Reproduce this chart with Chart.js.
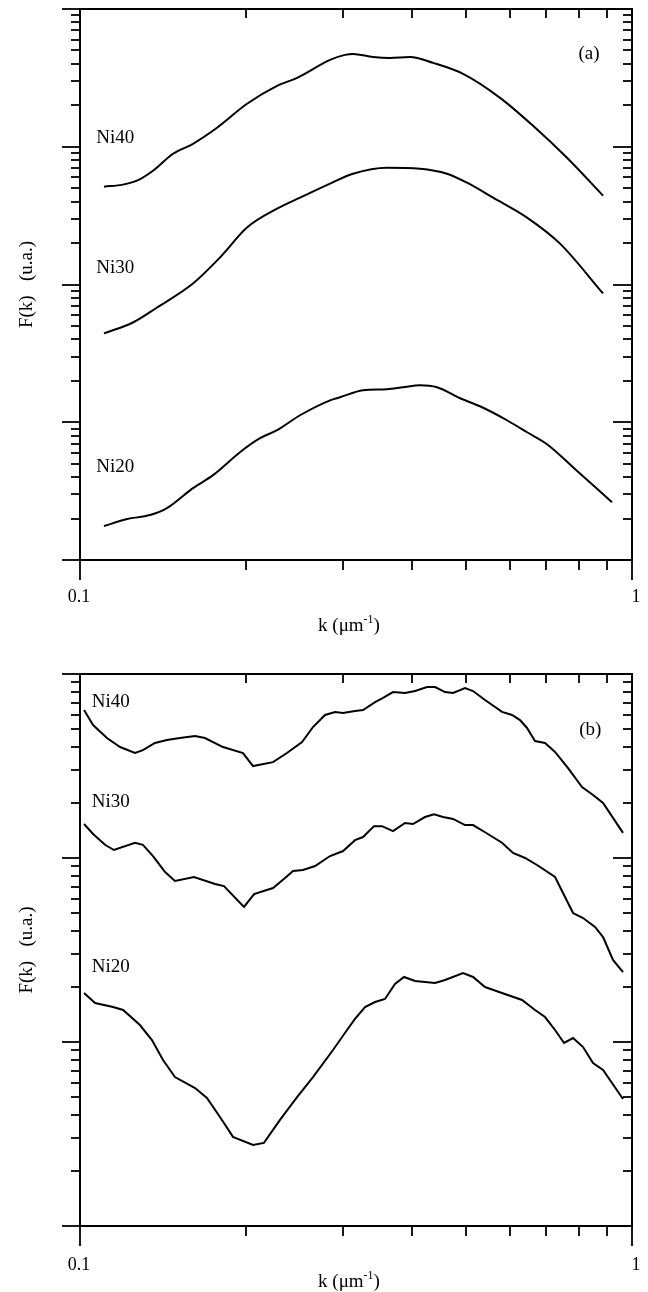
<!DOCTYPE html>
<html>
<head>
<meta charset="utf-8">
<script src="https://cdn.jsdelivr.net/npm/chart.js@4.4.1/dist/chart.umd.min.js"></script>
<style>
  html, body { margin: 0; padding: 0; background: #fff; }
  .panel { position: relative; width: 648px; height: 646px; }
</style>
</head>
<body>
<div class="panel"><canvas id="chartA"></canvas></div>
<div class="panel"><canvas id="chartB"></canvas></div>
<script>
// ---- panel (a): smooth curves ----
const kA40 = [0.1105, 0.1196, 0.1268, 0.1356, 0.1474, 0.1602, 0.1771, 0.2007, 0.2275, 0.2473, 0.2838,
              0.3020, 0.3123, 0.3395, 0.3644, 0.3962, 0.4361, 0.4943, 0.5768, 0.6618, 0.7625, 0.8863];
const fA40 = [513, 531, 567, 670, 889, 1051, 1374, 2051, 2767, 3162, 4270,
              4643, 4722, 4487, 4416, 4487, 4064, 3382, 2265, 1420, 832, 442];

const kA30 = [0.1105, 0.1247, 0.1379, 0.1602, 0.1793, 0.2007, 0.2275, 0.2504, 0.2838,
              0.3123, 0.3598, 0.4130, 0.4622, 0.5025, 0.5601, 0.6454, 0.7406, 0.8863];
const fA30 = [44.2, 53.0, 68.1, 101.6, 157, 259, 355, 427, 540,
              637, 704, 693, 637, 548, 427, 306, 198, 86.1];

const kA20 = [0.1105, 0.1217, 0.1339, 0.1437, 0.1602, 0.1742, 0.1949, 0.2119, 0.2275, 0.2504, 0.2838, 0.2958,
              0.3256, 0.3598, 0.3847, 0.4130, 0.4434, 0.4880, 0.5304, 0.5936, 0.6454, 0.7015, 0.7818, 0.9199];
const fA20 = [1.763, 1.982, 2.119, 2.381, 3.325, 4.130, 6.06, 7.66, 8.75, 11.24, 14.43, 15.18,
              17.06, 17.35, 17.93, 18.54, 17.93, 14.93, 13.06, 10.34, 8.46, 6.93, 4.72, 2.63];

// ---- panel (b): raw data, straight segments ----
const kB40 = [0.1017, 0.1056, 0.1119, 0.1182, 0.1258, 0.1300, 0.1367, 0.1437, 0.1517, 0.1616, 0.1684, 0.1816,
              0.1974, 0.2058, 0.2237, 0.2371, 0.2525, 0.2643, 0.2779, 0.2897, 0.2996, 0.3149, 0.3256, 0.3424,
              0.3540, 0.3690, 0.3880, 0.4046, 0.4253, 0.4398, 0.4585, 0.4740, 0.4984, 0.5153, 0.5417, 0.5814,
              0.6062, 0.6268, 0.6454, 0.6673, 0.6957, 0.7254, 0.7659, 0.8119, 0.8500, 0.8863, 0.9632];
const fB40 = [637, 528, 449, 401, 372, 386, 422, 438, 449, 460, 449, 401,
              372, 316, 332, 372, 427, 515, 599, 622, 614, 629, 637, 704,
              741, 798, 788, 808, 850, 850, 798, 788, 839, 808, 722, 622,
              599, 562, 509, 432, 422, 377, 308, 243, 220, 199, 137];

const kB30 = [0.1017, 0.1056, 0.1110, 0.1152, 0.1258, 0.1300, 0.1356, 0.1426, 0.1486, 0.1609, 0.1757, 0.1823,
              0.1982, 0.2067, 0.2237, 0.2352, 0.2432, 0.2535, 0.2666, 0.2838, 0.2996, 0.3149, 0.3256, 0.3409,
              0.3525, 0.3690, 0.3880, 0.4011, 0.4217, 0.4379, 0.4547, 0.4740, 0.4984, 0.5153, 0.5417, 0.5814,
              0.6088, 0.6401, 0.6729, 0.7254, 0.7563, 0.7820, 0.8153, 0.8571, 0.8863, 0.9238, 0.9632];
const fB30 = [153, 135, 118, 110.5, 121, 118, 102.5, 83.9, 75.0, 78.8, 72.2, 70.4,
              54.2, 63.7, 68.7, 77.8, 85.0, 86.1, 90.5, 102.5, 109.1, 125, 130, 149,
              149, 140, 155, 153, 167, 173, 167, 163, 151, 151, 138, 121,
              106.5, 100, 91.6, 78.8, 61.4, 50.2, 47.2, 42.2, 37.2, 27.9, 24.0];

const kB20 = [0.1017, 0.1065, 0.1148, 0.1197, 0.1284, 0.1350, 0.1414, 0.1486, 0.1616, 0.1698, 0.1793,
              0.1893, 0.2058, 0.2154, 0.2303, 0.2473, 0.2643, 0.2873, 0.3046, 0.3149, 0.3284, 0.3424,
              0.3569, 0.3721, 0.3864, 0.4046, 0.4398, 0.4585, 0.4941, 0.5153, 0.5417, 0.5814, 0.6321,
              0.6673, 0.6957, 0.7254, 0.7532, 0.7820, 0.8153, 0.8500, 0.8863, 0.9632];
const fB20 = [18.46, 16.29, 15.49, 14.93, 12.37, 10.25, 7.98, 6.45, 5.62, 4.96, 3.91,
              3.05, 2.76, 2.83, 3.77, 5.02, 6.45, 9.05, 11.62, 13.34, 15.49, 16.49,
              17.13, 20.66, 22.56, 21.45, 20.93, 21.73, 23.71, 22.56, 19.90, 18.46, 16.92,
              14.93, 13.67, 11.62, 9.88, 10.51, 9.39, 7.69, 7.04, 4.90];

// axis ticks (log decades with minor steps)
const kTicks = [0.1, 0.2, 0.3, 0.4, 0.5, 0.6, 0.7, 0.8, 0.9, 1];
const kTickLabels = ['0.1', '1'];
const minorSteps = [1, 2, 3, 4, 5, 6, 7, 8, 9];

// curve labels, anchored in data coordinates
const labelsA = [['Ni40', 0.107, 1160], ['Ni30', 0.107, 131], ['Ni20', 0.107, 4.72]];
const labelsB = [['Ni40', 0.105, 704], ['Ni30', 0.105, 201], ['Ni20', 0.105, 25.6]];

const SERIF = '"Liberation Serif", "Times New Roman", serif';

function pts(ks, fs) {
  return ks.map((k, i) => ({ x: k, y: fs[i] }));
}

function line(ctx, x1, y1, x2, y2) {
  ctx.beginPath();
  ctx.moveTo(x1, y1);
  ctx.lineTo(x2, y2);
  ctx.stroke();
}

const framePlugin = {
  id: 'frame',
  afterDraw(chart, args, o) {
    const { ctx, chartArea: a, scales: { x, y } } = chart;
    ctx.save();
    ctx.strokeStyle = '#000';
    ctx.fillStyle = '#000';
    ctx.lineWidth = 2;
    ctx.strokeRect(a.left, a.top, a.right - a.left, a.bottom - a.top);

    ctx.lineWidth = 1.8;
    kTicks.forEach(v => {
      const px = Math.round(x.getPixelForValue(v));
      const major = (v === 0.1 || v === 1);
      line(ctx, px, a.bottom, px, a.bottom + (major ? 20 : 10));
      if (!major) line(ctx, px, a.top, px, a.top + 9);
    });

    const e0 = Math.round(Math.log10(y.min));
    const e1 = Math.round(Math.log10(y.max));
    for (let e = e0; e <= e1; e++) {
      minorSteps.forEach(m => {
        const v = m * Math.pow(10, e);
        if (v > y.max * 1.0001) return;
        const py = Math.round(y.getPixelForValue(v));
        const major = m === 1;
        line(ctx, a.left - (major ? 18 : 9), py, a.left, py);
        line(ctx, a.right, py, a.right - (major ? 19 : 9), py);
      });
    }

    // tick labels
    ctx.font = '18px ' + SERIF;
    ctx.textAlign = 'center';
    ctx.textBaseline = 'middle';
    ctx.fillText(kTickLabels[0], x.getPixelForValue(0.1) - 1, a.bottom + o.tickDy);
    ctx.fillText(kTickLabels[1], x.getPixelForValue(1) + 4, a.bottom + o.tickDy);

    // x title: k (μm^-1)
    const parts = [['k (μm', 19, 0], ['-1', 12, -6], [')', 19, 0]];
    let w = 0;
    parts.forEach(p => { ctx.font = p[1] + 'px ' + SERIF; w += ctx.measureText(p[0]).width; });
    let cx = 349 - w / 2;
    ctx.textAlign = 'left';
    parts.forEach(p => {
      ctx.font = p[1] + 'px ' + SERIF;
      ctx.fillText(p[0], cx, a.bottom + o.titleDy + p[2]);
      cx += ctx.measureText(p[0]).width;
    });

    // y title
    ctx.save();
    ctx.translate(27, (a.top + a.bottom) / 2);
    ctx.rotate(-Math.PI / 2);
    ctx.textAlign = 'center';
    ctx.font = '19px ' + SERIF;
    ctx.fillText('F(k)   (u.a.)', 0, 0);
    ctx.restore();

    // curve labels and panel letter
    ctx.font = '19px ' + SERIF;
    ctx.textAlign = 'left';
    o.labels.forEach(l => {
      ctx.fillText(l[0], x.getPixelForValue(l[1]), y.getPixelForValue(l[2]));
    });
    ctx.textAlign = 'center';
    ctx.fillText(o.letter[0], x.getPixelForValue(o.letter[1]), y.getPixelForValue(o.letter[2]));
    ctx.restore();
  }
};

function makeChart(id, sets, yMax, smooth, pad, frameOpts) {
  return new Chart(document.getElementById(id), {
    type: 'line',
    data: {
      datasets: sets.map(s => ({
        label: s[0],
        data: pts(s[1], s[2]),
        borderColor: '#000',
        borderWidth: 2,
        pointRadius: 0,
        fill: false,
        tension: smooth ? 0.4 : 0,
        cubicInterpolationMode: smooth ? 'monotone' : 'default'
      }))
    },
    options: {
      responsive: true,
      maintainAspectRatio: false,
      animation: false,
      layout: { padding: pad },
      plugins: { legend: { display: false }, tooltip: { enabled: false }, frame: frameOpts },
      scales: {
        x: { type: 'logarithmic', min: 0.1, max: 1, display: false },
        y: { type: 'logarithmic', min: 1, max: yMax, display: false }
      }
    },
    plugins: [framePlugin]
  });
}

makeChart('chartA',
  [['Ni40', kA40, fA40], ['Ni30', kA30, fA30], ['Ni20', kA20, fA20]],
  10000, true,
  { left: 80, top: 9, right: 16, bottom: 86 },
  { tickDy: 37, titleDy: 66, labels: labelsA, letter: ['(a)', 0.836, 4720] });

makeChart('chartB',
  [['Ni40', kB40, fB40], ['Ni30', kB30, fB30], ['Ni20', kB20, fB20]],
  1000, false,
  { left: 80, top: 28, right: 16, bottom: 66 },
  { tickDy: 39, titleDy: 56, labels: labelsB, letter: ['(b)', 0.84, 496] });
</script>
</body>
</html>
